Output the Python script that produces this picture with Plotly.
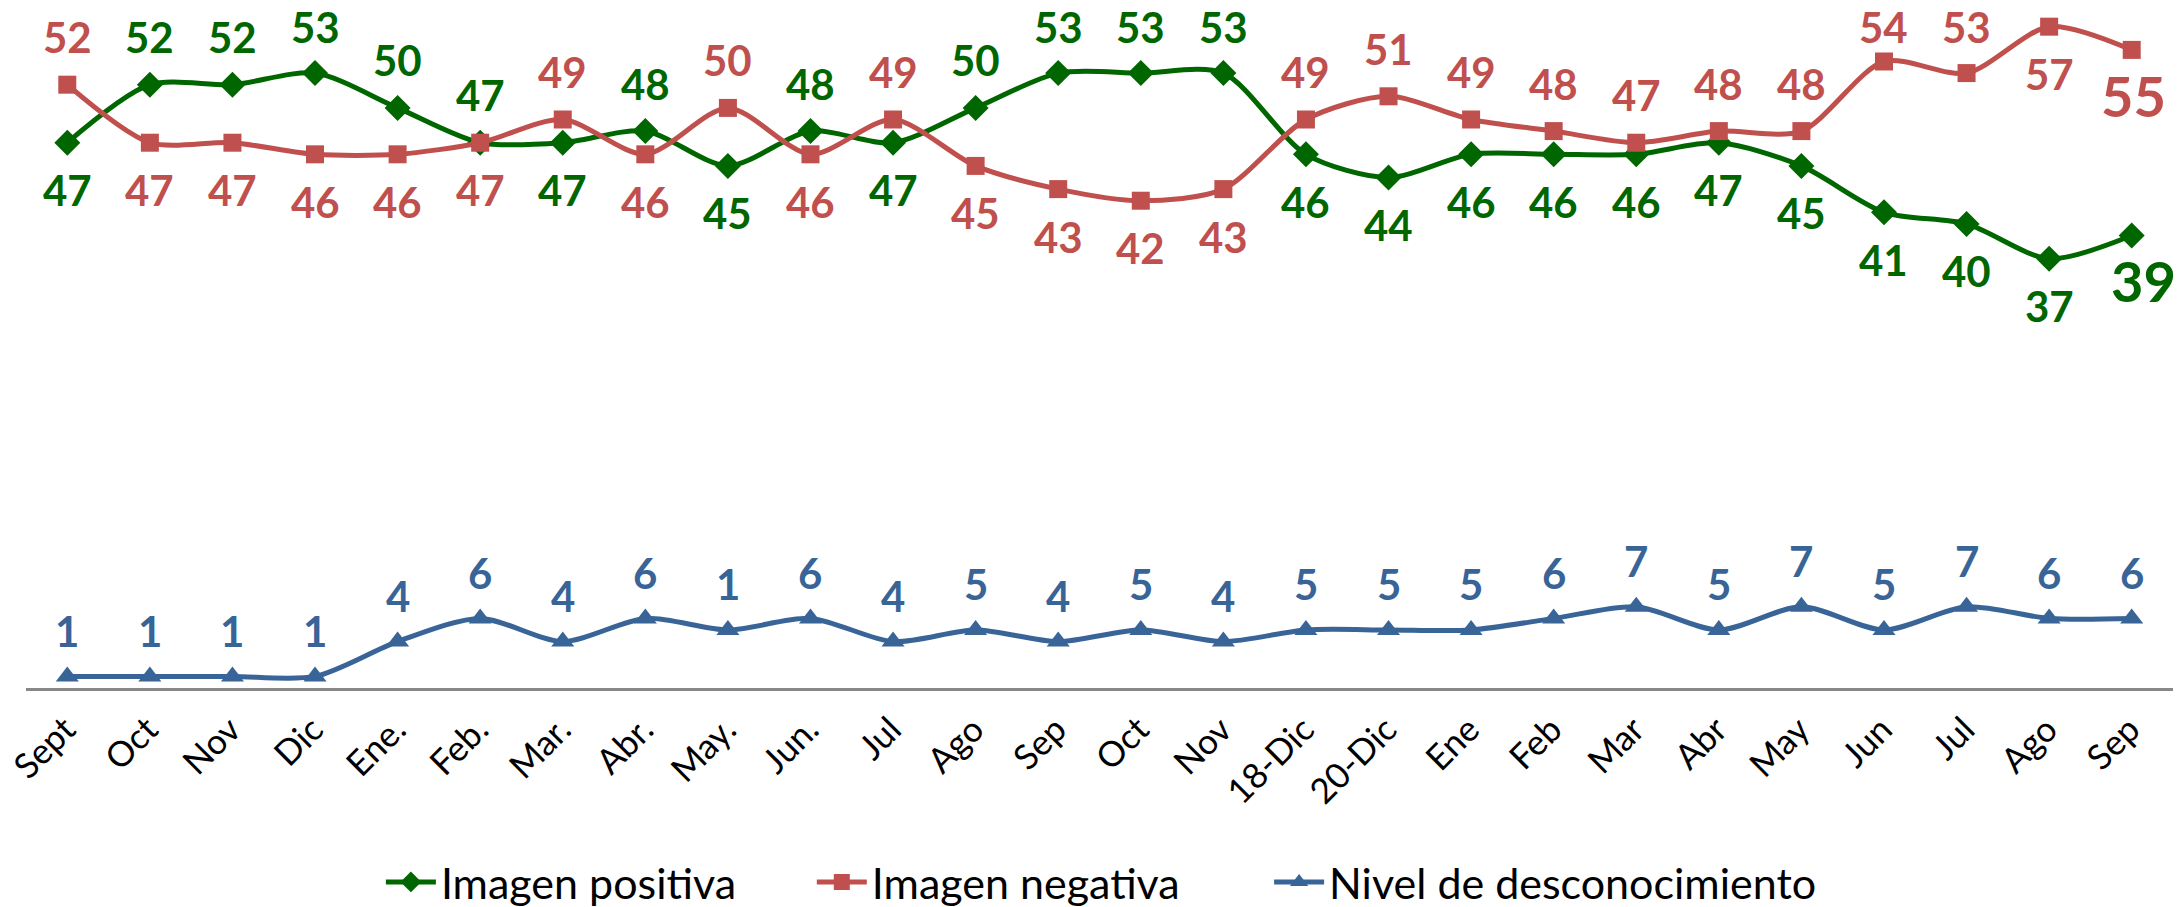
import plotly.graph_objects as go

categories = ["Sept", "Oct", "Nov", "Dic", "Ene.", "Feb.", "Mar.", "Abr.", "May.", "Jun.",
              "Jul", "Ago", "Sep", "Oct", "Nov", "18-Dic", "20-Dic", "Ene", "Feb", "Mar",
              "Abr", "May", "Jun", "Jul", "Ago", "Sep"]

positiva = [47, 52, 52, 53, 50, 47, 47, 48, 45, 48, 47, 50, 53, 53, 53, 46, 44, 46, 46, 46,
            47, 45, 41, 40, 37, 39]
negativa = [52, 47, 47, 46, 46, 47, 49, 46, 50, 46, 49, 45, 43, 42, 43, 49, 51, 49, 48, 47,
            48, 48, 54, 53, 57, 55]
desconocimiento = [1, 1, 1, 1, 4, 6, 4, 6, 5, 6, 4, 5, 4, 5, 4, 5, 5, 5, 6, 7, 5, 7, 5, 7, 6, 6]
desconocimiento_labels = ["1", "1", "1", "1", "4", "6", "4", "6", "1", "6", "4", "5", "4", "5",
                          "4", "5", "5", "5", "6", "7", "5", "7", "5", "7", "6", "6"]

# label placement: 1 = above marker, -1 = below marker
pos_side = [-1, 1, 1, 1, 1, 1, -1, 1, -1, 1, -1, 1, 1, 1, 1, -1, -1, -1, -1, -1, -1, -1, -1, -1, -1, -1]
neg_side = [1, -1, -1, -1, -1, -1, 1, -1, 1, -1, 1, -1, -1, -1, -1, 1, 1, 1, 1, 1, 1, 1, 1, 1, -1, -1]

GREEN = "#006600"
RED = "#C0504D"
BLUE = "#386497"
FONT = "Lato"
Y_MAX = 59.3
LABEL_OFF = 4.1      # label distance from marker, in axis units
LABEL_CAP = 57.0     # labels are kept inside the plot area (as in the original)

x = list(range(len(categories)))

fig = go.Figure()
fig.add_trace(go.Scatter(
    x=x, y=positiva, name="Imagen positiva", mode="lines+markers", legend="legend",
    line=dict(color=GREEN, width=5, shape="spline", smoothing=0.8),
    marker=dict(symbol="diamond", size=20, color=GREEN)))
fig.add_trace(go.Scatter(
    x=x, y=negativa, name="Imagen negativa", mode="lines+markers", legend="legend2",
    line=dict(color=RED, width=5, shape="spline", smoothing=0.8),
    marker=dict(symbol="square", size=18, color=RED)))
fig.add_trace(go.Scatter(
    x=x, y=desconocimiento, name="Nivel de desconocimiento", mode="lines+markers", legend="legend3",
    line=dict(color=BLUE, width=5, shape="spline", smoothing=0.8),
    marker=dict(symbol="triangle-up", size=20, color=BLUE)))


def label_y(v, side, off=LABEL_OFF):
    return min(v + side * off, LABEL_CAP)


annotations = []
n = len(categories)
for i in range(n):
    last = i == n - 1
    size = 56 if last else 42
    off = LABEL_OFF if not last else 3.9
    annotations.append(dict(
        x=x[i], y=label_y(positiva[i], pos_side[i], off), text="<b>%d</b>" % positiva[i],
        showarrow=False, xanchor="center", yanchor="middle", xshift=(12 if last else 0),
        font=dict(family=FONT, size=size, color=GREEN)))
    annotations.append(dict(
        x=x[i], y=label_y(negativa[i], neg_side[i], off), text="<b>%d</b>" % negativa[i],
        showarrow=False, xanchor="center", yanchor="middle", xshift=(2 if last else 0),
        font=dict(family=FONT, size=size, color=RED)))
    annotations.append(dict(
        x=x[i], y=label_y(desconocimiento[i], 1, 3.95), text="<b>%s</b>" % desconocimiento_labels[i],
        showarrow=False, xanchor="center", yanchor="middle",
        font=dict(family=FONT, size=42, color=BLUE)))

leg_common = dict(orientation="h", xanchor="left", y=-0.282, yanchor="middle",
                  font=dict(family=FONT, size=43, color="black"), itemwidth=50,
                  bgcolor="rgba(0,0,0,0)", borderwidth=0)

fig.update_layout(
    width=2184, height=907,
    paper_bgcolor="white", plot_bgcolor="white",
    margin=dict(l=26, r=11, t=0, b=219, autoexpand=False),
    font=dict(family=FONT, color="black"),
    showlegend=True,
    legend=dict(x=0.1653, **leg_common),
    legend2=dict(x=0.366, **leg_common),
    legend3=dict(x=0.579, **leg_common),
    annotations=annotations,
    xaxis=dict(
        range=[-0.5, n - 0.5], tickmode="array", tickvals=x, ticktext=categories,
        tickangle=-45, tickfont=dict(family=FONT, size=35, color="black"),
        ticklabelshift=-2, ticklabelstandoff=4, ticklabeloverflow="allow",
        showgrid=False, zeroline=False, showline=True, linecolor="#888888", linewidth=3,
        ticks="", ticklen=0, automargin=False),
    yaxis=dict(range=[0, Y_MAX], visible=False, showgrid=False, zeroline=False,
               automargin=False),
)

fig.write_html("out.html", config={"displayModeBar": False},
               post_script="document.body.style.margin='0';document.body.style.overflow='hidden';")
